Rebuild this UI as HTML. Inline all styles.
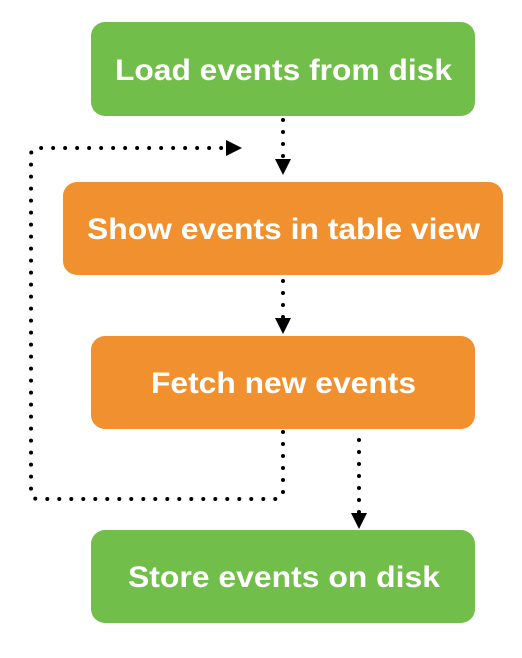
<!DOCTYPE html>
<html><head><meta charset="utf-8"><style>
html,body{margin:0;padding:0;background:#fff;width:522px;height:658px;overflow:hidden}
svg{display:block}
text{font-family:"Liberation Sans",Arial,sans-serif;font-weight:bold;font-size:30px;fill:#fff;text-anchor:middle}
.d{fill:none;stroke:#000;stroke-width:4;stroke-linecap:round;stroke-dasharray:0 12}
</style></head><body>
<svg width="522" height="658" viewBox="0 0 522 658">
<rect x="91" y="22" width="384" height="94" rx="14" fill="#72BE4A"/>
<rect x="63" y="182" width="440" height="93" rx="14" fill="#F0902F"/>
<rect x="91" y="336" width="384" height="93" rx="14" fill="#F0902F"/>
<rect x="91" y="530" width="384" height="93" rx="14" fill="#72BE4A"/>
<text x="283.5" y="80" textLength="337" lengthAdjust="spacingAndGlyphs">Load events from disk</text>
<text x="283.5" y="239" textLength="393" lengthAdjust="spacingAndGlyphs">Show events in table view</text>
<text x="283.5" y="393" textLength="265" lengthAdjust="spacingAndGlyphs">Fetch new events</text>
<text x="284" y="587" textLength="312" lengthAdjust="spacingAndGlyphs">Store events on disk</text>
<path class="d" d="M283 120 L283 160"/>
<polygon points="275,159 291,159 283,175" fill="#000"/>
<path class="d" d="M283 281 L283 318"/>
<polygon points="275,318 291,318 283,334" fill="#000"/>
<path class="d" d="M359 440 L359 513"/>
<polygon points="351,513 367,513 359,529" fill="#000"/>
<path class="d" d="M283 432 L283 492 Q283 499 276 499 L38 499 Q31 499 31 492 L31 155 Q31 148 38 148 L228 148"/>
<polygon points="226,140 226,156 242,148" fill="#000"/>
</svg>
</body></html>
